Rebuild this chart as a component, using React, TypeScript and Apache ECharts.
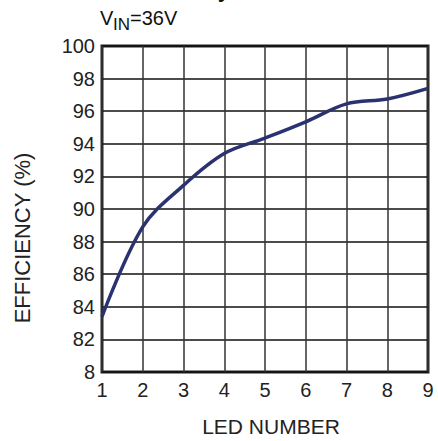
import React, { useEffect, useRef } from "react";
import * as echarts from "echarts";

const ledNumbers = [1, 2, 3, 4, 5, 6, 7, 8, 9];
const efficiency = [83.4, 88.9, 91.45, 93.4, 94.35, 95.35, 96.45, 96.75, 97.4];
const yTicks = [80, 82, 84, 86, 88, 90, 92, 94, 96, 98, 100];

const FONT = "'Liberation Sans', Arial, sans-serif";

export default function App() {
  const ref = useRef<HTMLDivElement>(null);
  useEffect(() => {
    if (!ref.current) return;
    const chart = echarts.init(ref.current, null, { renderer: "svg" });
    chart.setOption({
      animation: false,
      backgroundColor: "#ffffff",
      grid: {
        left: 102,
        right: 10,
        top: 46,
        bottom: 69,
        show: true,
        borderColor: "#222",
        borderWidth: 3,
        backgroundColor: "transparent",
      },
      xAxis: {
        type: "value",
        min: 1,
        max: 9,
        interval: 1,
        axisLine: { show: false },
        axisTick: { show: false },
        axisLabel: { color: "#222", fontSize: 20, fontFamily: FONT, margin: 8 },
        splitLine: { show: true, lineStyle: { color: "#333", width: 1.5 } },
      },
      yAxis: {
        type: "value",
        min: yTicks[0],
        max: yTicks[yTicks.length - 1],
        interval: 2,
        axisLine: { show: false },
        axisTick: { show: false },
        axisLabel: {
          color: "#222",
          fontSize: 20,
          fontFamily: FONT,
          margin: 7,
          formatter: (v: number) => (v === 80 ? "8" : String(v)),
        },
        splitLine: { show: true, lineStyle: { color: "#111", width: 1.5 } },
      },
      series: [
        {
          type: "line",
          data: ledNumbers.map((x, i) => [x, efficiency[i]]),
          smooth: 0.35,
          symbol: "none",
          lineStyle: { color: "#2b3270", width: 3.5 },
          z: 5,
        },
      ],
      graphic: [
        {
          type: "text",
          x: 230,
          y: 0,
          style: {
            text: "Efficiency",
            font: `bold 22px ${FONT}`,
            fill: "#111",
            textAlign: "right",
            textVerticalAlign: "bottom",
          },
        },
        {
          type: "text",
          x: 100,
          y: 28,
          style: { text: "V", font: `20px ${FONT}`, fill: "#111", textAlign: "left", textVerticalAlign: "bottom" },
        },
        {
          type: "text",
          x: 113,
          y: 33,
          style: { text: "IN", font: `17px ${FONT}`, fill: "#111", textAlign: "left", textVerticalAlign: "bottom" },
        },
        {
          type: "text",
          x: 130,
          y: 28,
          style: { text: "=36V", font: `20px ${FONT}`, fill: "#111", textAlign: "left", textVerticalAlign: "bottom" },
        },
        {
          type: "text",
          x: 22,
          y: 238,
          rotation: Math.PI / 2,
          style: {
            text: "EFFICIENCY (%)",
            font: `22px ${FONT}`,
            fill: "#222",
            textAlign: "center",
            textVerticalAlign: "middle",
          },
        },
        {
          type: "text",
          x: 271,
          y: 426,
          style: {
            text: "LED NUMBER",
            font: `21px ${FONT}`,
            fill: "#222",
            textAlign: "center",
            textVerticalAlign: "middle",
          },
        },
      ],
    });
    return () => chart.dispose();
  }, []);
  return (
    <div
      ref={ref}
      style={{ position: "absolute", left: 0, top: 0, width: 438, height: 441 }}
    />
  );
}
